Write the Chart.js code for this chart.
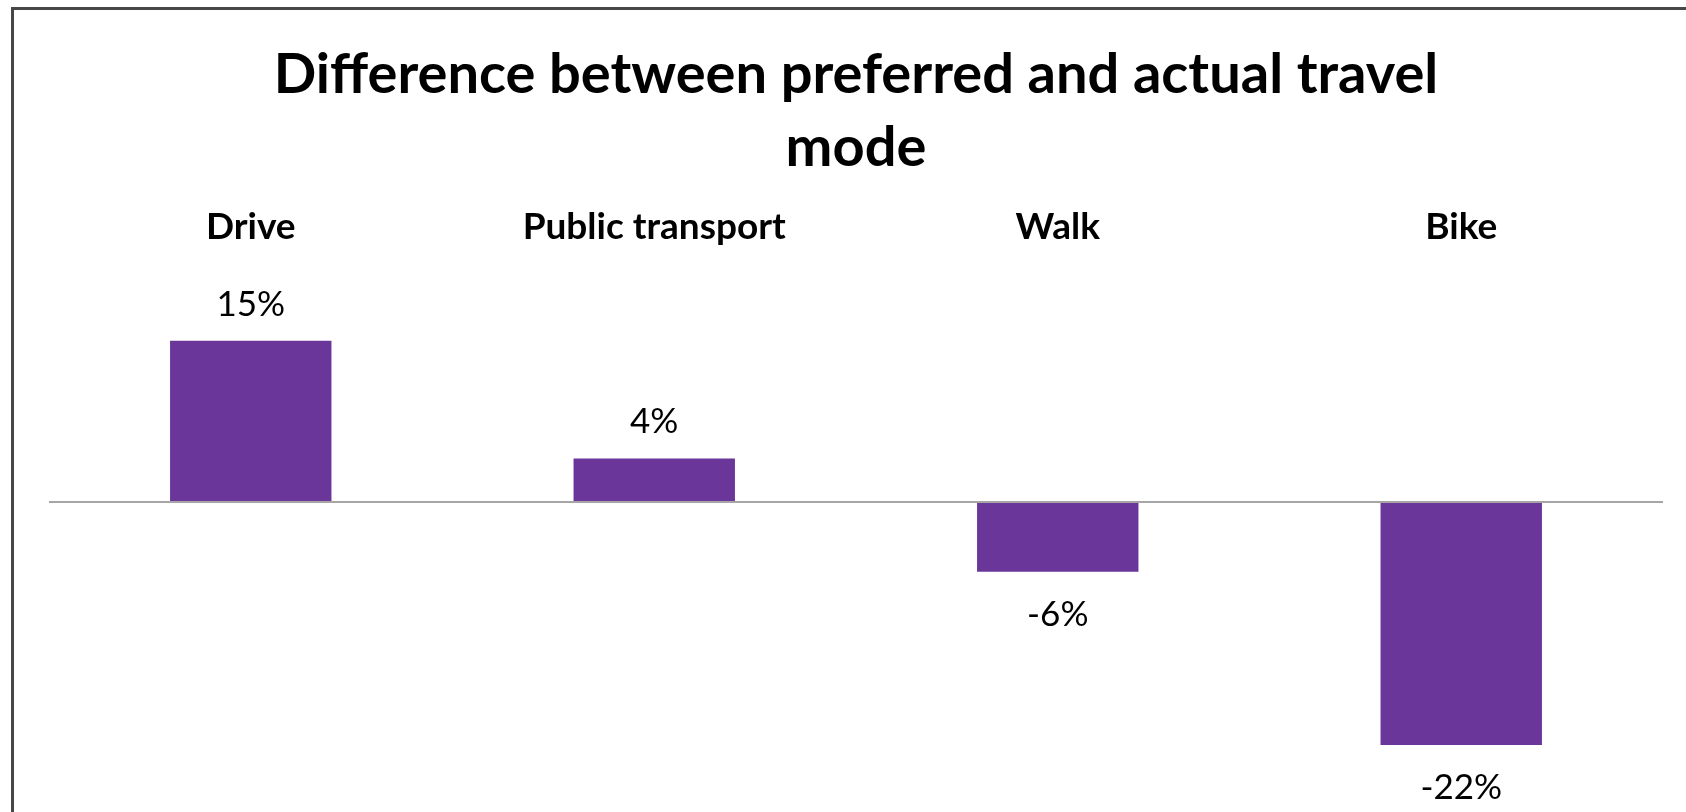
<!DOCTYPE html>
<html>
<head>
<meta charset="utf-8">
<title>Difference between preferred and actual travel mode</title>
<script src="https://cdn.jsdelivr.net/npm/chart.js@4.4.1/dist/chart.umd.min.js"></script>
<style>
    html, body { margin: 0; padding: 0; background: #fff; overflow: hidden; }
    #frame {
        position: absolute;
        left: 11px;
        top: 7px;
        width: 1700px;
        height: 820px;
        border-top: 3px solid #474747;
        border-left: 3px solid #474747;
    }
    #myChart { position: absolute; left: 0; top: 0; }
</style>
</head>
<body>
<div id="frame"></div>
<canvas id="myChart" width="1686" height="812"></canvas>
<script>
const titleLines = ['Difference between preferred and actual travel', 'mode'];
const modes = ['Drive', 'Public transport', 'Walk', 'Bike'];
const differences = [14.8, 4.0, -6.4, -22.3];

// value labels above / below each bar
const barLabels = {
    id: 'barLabels',
    afterDatasetsDraw(chart) {
        const ctx = chart.ctx;
        const meta = chart.getDatasetMeta(0);
        ctx.save();
        ctx.font = '35px Lato';
        ctx.fillStyle = '#000';
        ctx.textAlign = 'center';
        ctx.textBaseline = 'alphabetic';
        meta.data.forEach((bar, i) => {
            const v = differences[i];
            const text = Math.round(v) + '%';
            const y = v >= 0 ? bar.y - 25 : bar.y + 54;
            ctx.fillText(text, bar.x, y);
        });
        ctx.restore();
    }
};

document.addEventListener('DOMContentLoaded', () => {
    const ctx = document.getElementById('myChart').getContext('2d');

    new Chart(ctx, {
        type: 'bar',
        data: {
            labels: modes,
            datasets: [{
                label: 'Difference',
                data: differences,
                backgroundColor: '#6a3699',
                borderWidth: 0,
                barPercentage: 0.4,
                categoryPercentage: 1.0
            }]
        },
        options: {
            responsive: false,
            animation: false,
            layout: {
                padding: { left: 49, right: 23, top: 0, bottom: 5 }
            },
            plugins: {
                legend: { display: false },
                tooltip: { enabled: false },
                title: {
                    display: true,
                    text: titleLines,
                    color: '#000',
                    font: { family: 'Lato', size: 56, weight: 'bold', lineHeight: 73 / 56 },
                    padding: { top: 38, bottom: 8 }
                }
            },
            scales: {
                x: {
                    position: 'top',
                    grid: { display: false, drawTicks: false },
                    border: { display: false },
                    ticks: {
                        color: '#000',
                        padding: 13,
                        font: { family: 'Lato', size: 37, weight: 'bold' }
                    }
                },
                y: {
                    min: -28,
                    max: 22,
                    ticks: { display: false, stepSize: 2 },
                    border: { display: false },
                    grid: {
                        drawTicks: false,
                        lineWidth: 2,
                        color: c => c.tick && c.tick.value === 0 ? '#a6a6a6' : 'rgba(0,0,0,0)'
                    }
                }
            }
        },
        plugins: [barLabels]
    });
});
</script>
</body>
</html>
